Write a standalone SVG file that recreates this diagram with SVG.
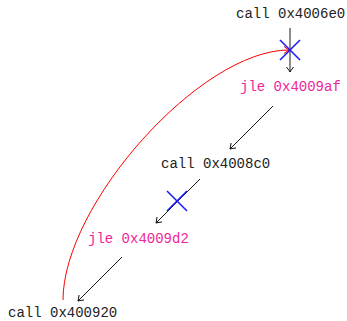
<svg xmlns="http://www.w3.org/2000/svg" width="347" height="321" viewBox="0 0 347 321">
<defs>
<style>
text{font-family:"Liberation Mono","DejaVu Sans Mono",monospace;font-size:14px}
.call{fill:#222}
.jle{fill:#f0259a}
.edge{fill:none;stroke:#000;stroke-width:0.9}
.back{fill:none;stroke:#f00;stroke-width:1}
.cross{stroke:#1a1aff;stroke-width:1.6}
</style>
<marker id="ah" viewBox="-6 -5 8 10" markerWidth="8" markerHeight="10" refX="0" refY="0" orient="auto" markerUnits="userSpaceOnUse">
<path d="M-5,-3.5 Q-1,-0.5 0,0 Q-1,0.5 -5,3.5" fill="none" stroke="#000" stroke-width="0.9"/>
</marker>
<marker id="ahr" viewBox="-6 -5 8 10" markerWidth="8" markerHeight="10" refX="0" refY="0" orient="auto" markerUnits="userSpaceOnUse">
<path d="M-5,-3.5 Q-1,-0.5 0,0 Q-1,0.5 -5,3.5" fill="none" stroke="#f00" stroke-width="1"/>
</marker>
</defs>
<g id="n1"><text class="call" x="236" y="18">call 0x4006e0</text></g>
<g id="n2"><text class="jle" x="240" y="91">jle 0x4009af</text></g>
<g id="n3"><text class="call" x="161" y="168">call 0x4008c0</text></g>
<g id="n4"><text class="jle" x="88" y="243">jle 0x4009d2</text></g>
<g id="n5"><text class="call" x="8" y="317">call 0x400920</text></g>
<g id="connectors">
<path class="edge" d="M290,28 L290,72" marker-end="url(#ah)"/>
<path class="edge" d="M273,106 L230,149" marker-end="url(#ah)"/>
<path class="edge" d="M200,179 L156,223" marker-end="url(#ah)"/>
<path class="edge" d="M122,257 L78,301" marker-end="url(#ah)"/>
<path class="back" d="M63,300 C63,205 200,50 289,50" marker-end="url(#ahr)"/>
<g id="cross1"><line class="cross" x1="280" y1="40" x2="300" y2="60"/><line class="cross" x1="300" y1="40" x2="280" y2="60"/></g>
<g id="cross2"><line class="cross" x1="167" y1="191" x2="187" y2="211"/><line class="cross" x1="187" y1="191" x2="167" y2="211"/></g>
</g>
</svg>
